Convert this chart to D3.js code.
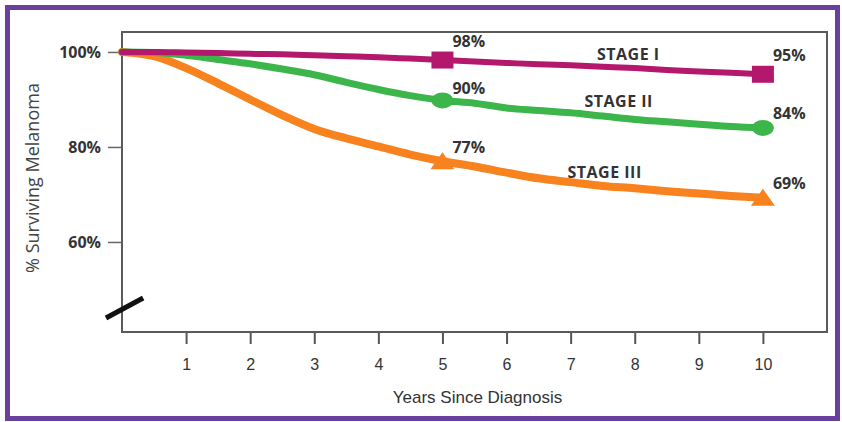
<!DOCTYPE html>
<html>
<head>
<meta charset="utf-8">
<script src="https://cdn.jsdelivr.net/npm/d3@7"></script>
<style>
  body { margin: 0; background: #fff; }
</style>
</head>
<body>
<script>
// survival, every half year
var years = [0, 0.5, 1, 1.5, 2, 2.5, 3, 3.5, 4, 4.5, 5, 5.5, 6, 6.5, 7, 7.5, 8, 8.5, 9, 9.5, 10];
var stage1 = [100, 100, 99.9, 99.8, 99.6, 99.5, 99.3, 99.1, 98.9, 98.6, 98.3, 98, 97.7, 97.4, 97.2, 96.9, 96.6, 96.2, 95.9, 95.6, 95.3];
var stage2 = [100, 99.9, 99.3, 98.4, 97.5, 96.4, 95.2, 93.6, 92.1, 90.8, 89.8, 89.2, 88.2, 87.7, 87.2, 86.5, 85.8, 85.3, 84.8, 84.3, 84];
var stage3 = [100, 99.1, 96.6, 93.4, 90, 86.7, 83.8, 81.8, 80.1, 78.4, 77, 75.9, 74.6, 73.4, 72.6, 71.8, 71.3, 70.7, 70.2, 69.7, 69.3];

var stageNames = ["STAGE I", "STAGE II", "STAGE III"];
var markerYears = [5, 10];
var markerLabels = [["98%", "95%"], ["90%", "84%"], ["77%", "69%"]];
var yTicks = [60, 80, 100];
var xTicks = [1, 2, 3, 4, 5, 6, 7, 8, 9, 10];

var width = 842;
var height = 422;
var colors = ["#b3186d", "#3cb54a", "#f7821e"];
var lineWidths = [6, 7, 8];

var svg = d3.select("body")
            .append("svg")
            .attr("width", width)
            .attr("height", height);

svg.append("rect")
   .attr("width", width).attr("height", height)
   .attr("fill", "#fff");

// purple frame
svg.append("rect")
   .attr("x", 7.5).attr("y", 7.5)
   .attr("width", 830).attr("height", 411)
   .attr("fill", "none")
   .attr("stroke", "#6a409e")
   .attr("stroke-width", 5);

var plotLeft = 122, plotRight = 827, plotTop = 32, plotBottom = 332;

var x = d3.scaleLinear().domain([0, 11]).range([plotLeft, plotRight]);
var y = d3.scaleLinear().domain([41.05, 104.2]).range([plotBottom, plotTop]);

// y axis
var yAxis = svg.append("g")
   .attr("transform", "translate(" + plotLeft + ",0)")
   .call(d3.axisLeft(y).tickValues(yTicks).tickSize(14).tickPadding(7)
         .tickFormat(function(d) { return d + "%"; }));
yAxis.select(".domain").remove();
yAxis.selectAll("line").attr("stroke", "#666").attr("stroke-width", 1.5);
yAxis.selectAll("text")
     .attr("fill", "#333")
     .style("font-family", "'Open Sans', sans-serif")
     .style("font-weight", "bold")
     .style("font-size", "16px");

// x axis
var xAxis = svg.append("g")
   .attr("transform", "translate(0," + plotBottom + ")")
   .call(d3.axisBottom(x).tickValues(xTicks).tickSize(12).tickPadding(15));
xAxis.select(".domain").remove();
xAxis.selectAll("line").attr("stroke", "#555").attr("stroke-width", 2);
xAxis.selectAll("text")
     .attr("fill", "#333")
     .style("font-family", "'Liberation Sans', Arial, sans-serif")
     .style("font-size", "16px");

// plot box
svg.append("rect")
   .attr("x", plotLeft).attr("y", plotTop)
   .attr("width", plotRight - plotLeft).attr("height", plotBottom - plotTop)
   .attr("fill", "none")
   .attr("stroke", "#5a5a5a")
   .attr("stroke-width", 2);

// axis break mark
svg.append("line")
   .attr("x1", x(-0.25)).attr("y1", y(44.0))
   .attr("x2", x(0.33)).attr("y2", y(48.2))
   .attr("stroke", "#111")
   .attr("stroke-width", 5);

// titles
svg.append("text")
   .attr("transform", "translate(39,178) rotate(-90)")
   .attr("text-anchor", "middle")
   .attr("fill", "#444")
   .style("font-family", "'Open Sans', sans-serif")
   .style("font-size", "18px")
   .text("% Surviving Melanoma");

svg.append("text")
   .attr("x", (plotLeft + plotRight) / 2 + 3)
   .attr("y", 403)
   .attr("text-anchor", "middle")
   .attr("fill", "#333")
   .style("font-family", "'Liberation Sans', Arial, sans-serif")
   .style("font-size", "17px")
   .text("Years Since Diagnosis");

var series = [stage1, stage2, stage3];

var line = d3.line()
   .x(function(d, i) { return x(years[i]); })
   .y(function(d) { return y(d); })
   .curve(d3.curveMonotoneX);

// draw stage III first so stage I sits on top
[2, 1, 0].forEach(function(s) {
    svg.append("path")
       .datum(series[s])
       .attr("d", line)
       .attr("fill", "none")
       .attr("stroke", colors[s])
       .attr("stroke-width", lineWidths[s])
       .attr("stroke-linecap", "round")
       .attr("stroke-linejoin", "round");
});

function valueAt(s, yr) {
    return series[s][years.indexOf(yr)];
}

// markers
markerYears.forEach(function(yr) {
    var cx = x(yr);
    var v1 = y(valueAt(0, yr)), v2 = y(valueAt(1, yr)), v3 = y(valueAt(2, yr));
    svg.append("rect")
       .attr("x", cx - 11).attr("y", v1 - 8.5)
       .attr("width", 22).attr("height", 17)
       .attr("fill", colors[0]);
    svg.append("ellipse")
       .attr("cx", cx).attr("cy", v2)
       .attr("rx", 11).attr("ry", 8)
       .attr("fill", colors[1]);
    svg.append("path")
       .attr("d", "M" + (cx - 12) + "," + (v3 + 8) + "L" + cx + "," + (v3 - 9) +
                  "L" + (cx + 12) + "," + (v3 + 8) + "Z")
       .attr("fill", colors[2]);
});

var labelFont = "'Open Sans', sans-serif";
var labelDy = [[-13, -13], [-6, -9], [-8, -9]];

// percentage labels next to markers
markerLabels.forEach(function(labels, s) {
    labels.forEach(function(t, k) {
        var yr = markerYears[k];
        svg.append("text")
           .attr("x", x(yr) + 10)
           .attr("y", y(valueAt(s, yr)) + labelDy[s][k])
           .attr("fill", "#333")
           .style("font-family", labelFont)
           .style("font-weight", "bold")
           .style("font-size", "16px")
           .text(t);
    });
});

// stage names
var namePos = [[7.9, 98.3], [7.75, 88.4], [7.53, 73.5]];
stageNames.forEach(function(n, s) {
    svg.append("text")
       .attr("x", x(namePos[s][0]))
       .attr("y", y(namePos[s][1]))
       .attr("text-anchor", "middle")
       .attr("fill", "#333")
       .style("font-family", labelFont)
       .style("font-weight", "bold")
       .style("font-size", "16px")
       .style("letter-spacing", "0.5px")
       .text(n);
});
</script>
</body>
</html>
